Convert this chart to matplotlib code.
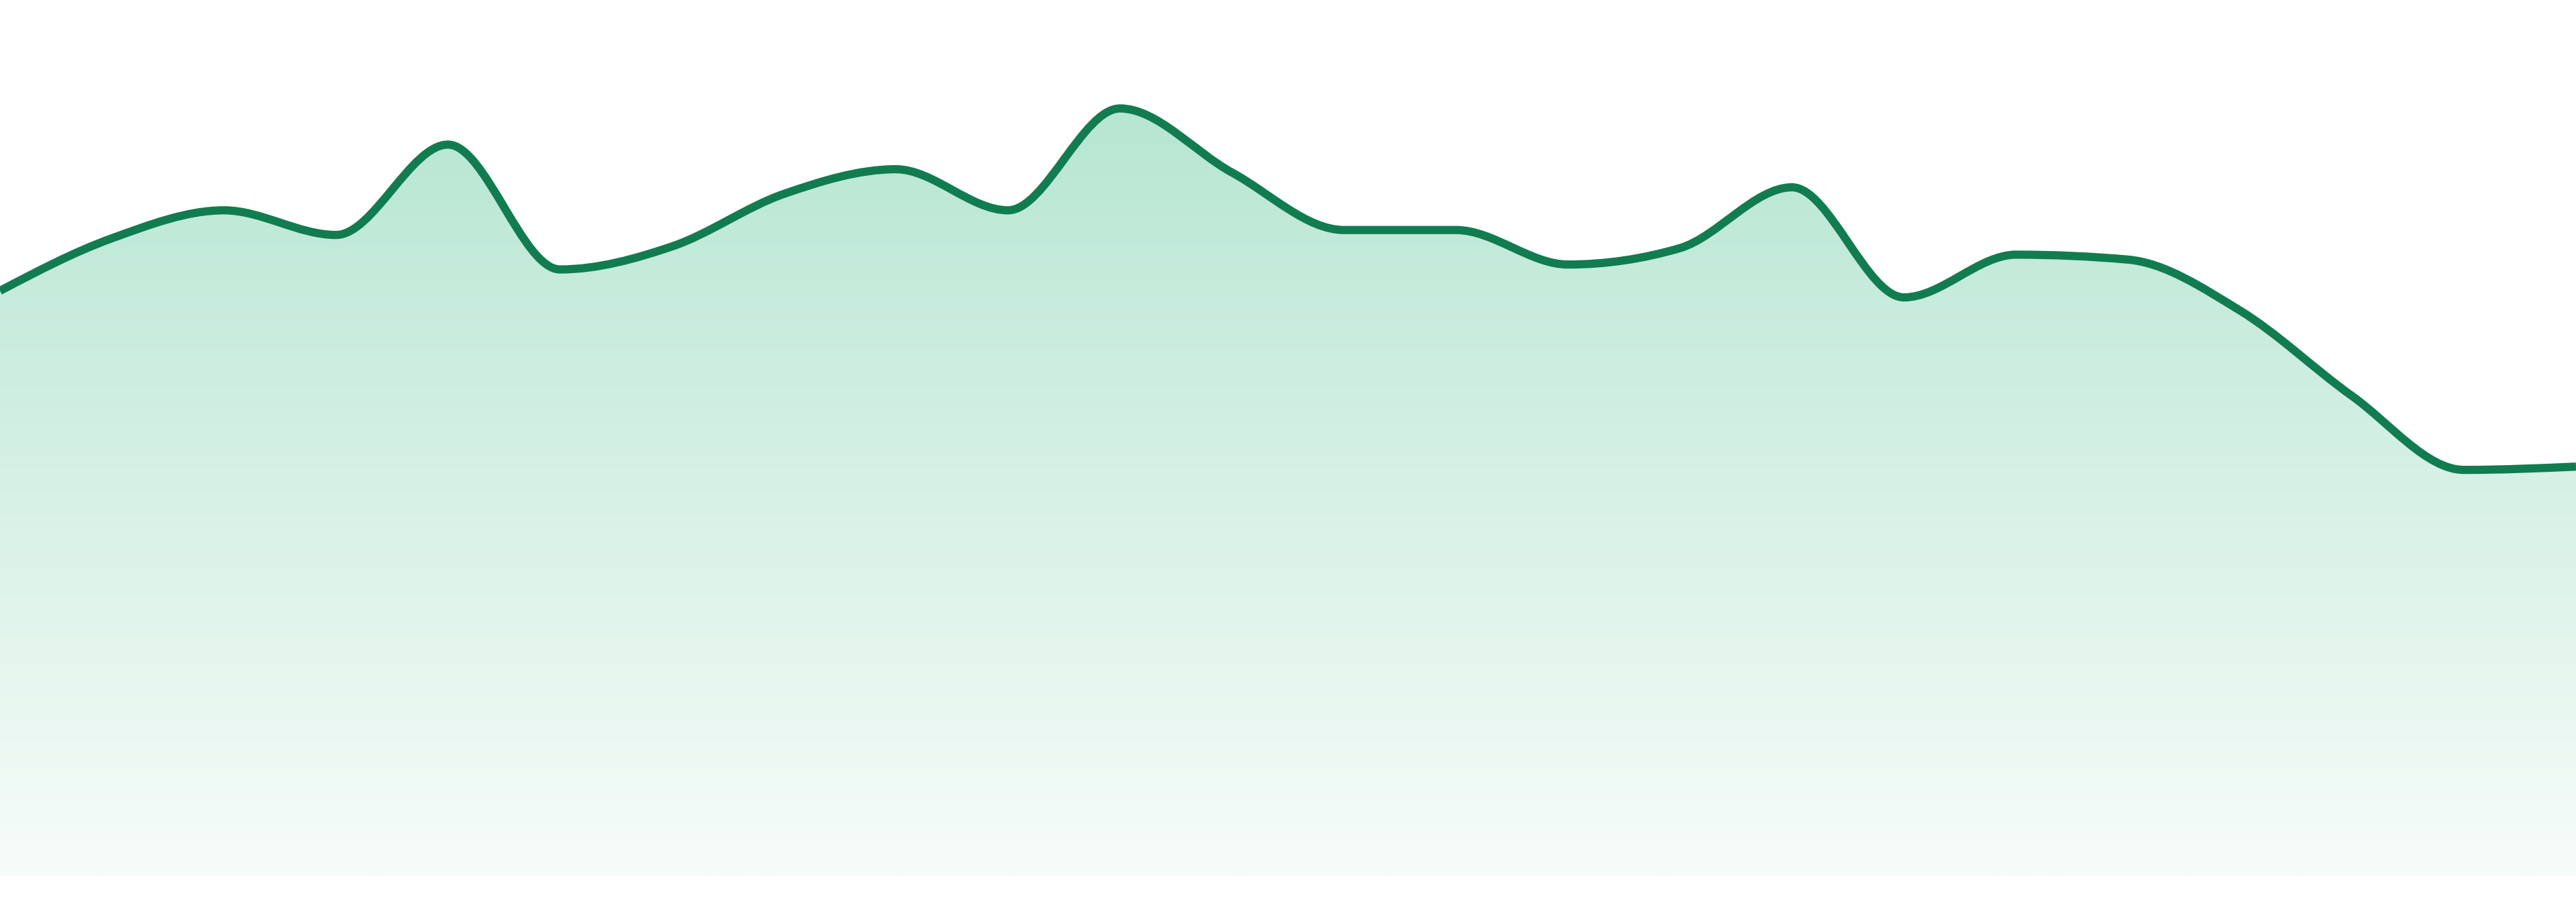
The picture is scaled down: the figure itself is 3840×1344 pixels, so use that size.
"""Smooth area chart with a fading green fill (monotone curve)."""

import matplotlib

matplotlib.use("Agg")
import matplotlib.pyplot as plt
import numpy as np
from matplotlib.patches import PathPatch
from matplotlib.path import Path


# data: one value per step
steps = list(range(24))
values = [356, 388, 405, 390, 445, 369, 383, 415, 430, 405, 467, 428,
          393, 393, 372, 382, 419, 352, 378, 375, 344, 292, 247, 249]

LINE_COLOR = "#117c50"
FILL_TOP = np.array([183, 230, 210]) / 255.0
FILL_BOTTOM = np.array([247, 252, 250]) / 255.0


def _monotone_tangents(x, y):
    # same scheme as d3.curveMonotoneX
    n = len(x)
    t = np.zeros(n)
    for i in range(1, n - 1):
        h0 = x[i] - x[i - 1]
        h1 = x[i + 1] - x[i]
        s0 = (y[i] - y[i - 1]) / h0
        s1 = (y[i + 1] - y[i]) / h1
        p = (s0 * h1 + s1 * h0) / (h0 + h1)
        t[i] = (np.sign(s0) + np.sign(s1)) * min(abs(s0), abs(s1), 0.5 * abs(p))
    h = x[1] - x[0]
    t[0] = (3 * (y[1] - y[0]) / h - t[1]) / 2
    h = x[-1] - x[-2]
    t[-1] = (3 * (y[-1] - y[-2]) / h - t[-2]) / 2
    return t


def _curve_vertices(x, y):
    t = _monotone_tangents(x, y)
    verts = [(x[0], y[0])]
    codes = [Path.MOVETO]
    for i in range(len(x) - 1):
        dx = (x[i + 1] - x[i]) / 3.0
        verts += [(x[i] + dx, y[i] + dx * t[i]),
                  (x[i + 1] - dx, y[i + 1] - dx * t[i + 1]),
                  (x[i + 1], y[i + 1])]
        codes += [Path.CURVE4] * 3
    return verts, codes


def main() -> None:
    x = np.asarray(steps, dtype=float)
    y = np.asarray(values, dtype=float)
    base = 0.0

    fig = plt.figure(figsize=(19.2, 6.72), dpi=200)
    ax = fig.add_axes([0, 0, 1, 1])
    ax.axis("off")

    verts, codes = _curve_vertices(x, y)

    # area under the curve, filled with a vertical gradient
    area_verts = verts + [(x[-1], base), (x[0], base), (x[0], y[0])]
    area_codes = codes + [Path.LINETO, Path.LINETO, Path.CLOSEPOLY]
    area = PathPatch(Path(area_verts, area_codes), facecolor="none", edgecolor="none")
    ax.add_patch(area)

    top = y.max()
    frac = np.linspace(0, 1, 256)[:, None]
    grad = FILL_BOTTOM + (FILL_TOP - FILL_BOTTOM) * frac[..., None]
    grad = np.repeat(grad, 2, axis=1)
    img = ax.imshow(grad, extent=[x[0], x[-1], base, top], origin="lower",
                    aspect="auto", interpolation="bilinear", zorder=1)
    img.set_clip_path(area)

    line = PathPatch(Path(verts, codes), facecolor="none", edgecolor=LINE_COLOR,
                     linewidth=4.4, capstyle="butt", joinstyle="round", zorder=3)
    ax.add_patch(line)

    # imshow resets the limits, so set them last
    ax.set_xlim(x[0], x[-1])
    ax.set_ylim(-16, 533)

    fig.savefig("out.png", dpi=200, facecolor="white")
    plt.close(fig)


if __name__ == "__main__":
    main()
